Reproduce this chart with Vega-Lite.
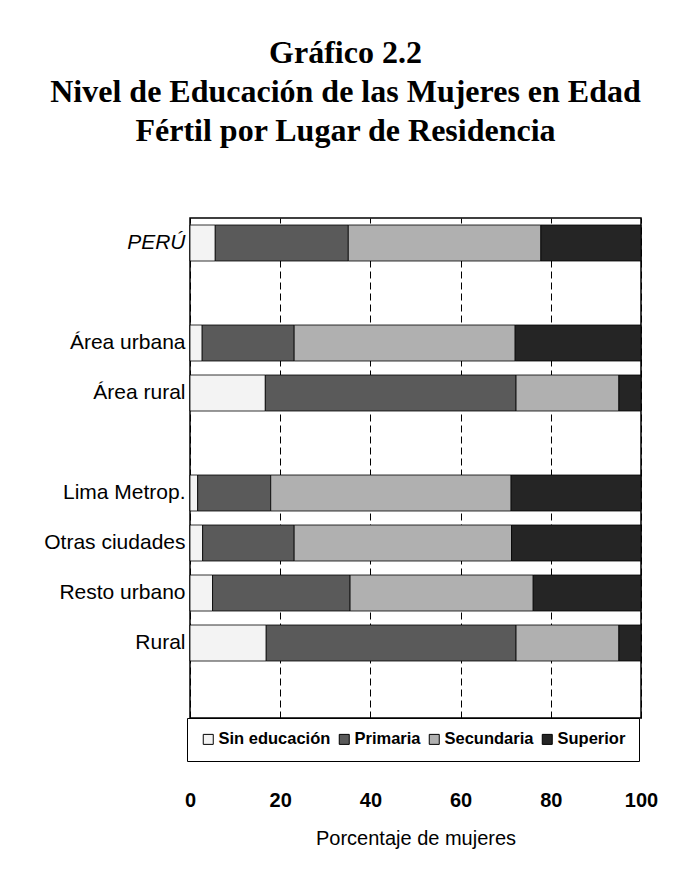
{
  "$schema": "https://vega.github.io/schema/vega-lite/v6.json",
  "width": 451,
  "height": 500,
  "autosize": {"type": "none"},
  "padding": {"left": 190, "top": 218, "right": 48, "bottom": 171},
  "background": "white",
  "title": {
    "text": ["Gráfico 2.2", "Nivel de Educación de las Mujeres en Edad", "Fértil por Lugar de Residencia"],
    "font": "Liberation Serif",
    "fontSize": 32,
    "fontWeight": "bold",
    "lineHeight": 39,
    "color": "black",
    "anchor": "middle",
    "frame": "group",
    "dx": -70,
    "offset": 70
  },
  "config": {
    "view": {"stroke": "black", "strokeWidth": 1.5},
    "axis": {"labelColor": "black", "titleColor": "black"}
  },
  "data": {
    "values": [
      {"lugar": "PERÚ", "nivel": "Sin educación", "k": 1, "pct": 5.6},
      {"lugar": "PERÚ", "nivel": "Primaria", "k": 2, "pct": 29.5},
      {"lugar": "PERÚ", "nivel": "Secundaria", "k": 3, "pct": 42.7},
      {"lugar": "PERÚ", "nivel": "Superior", "k": 4, "pct": 22.2},
      {"lugar": "Área urbana", "nivel": "Sin educación", "k": 1, "pct": 2.7},
      {"lugar": "Área urbana", "nivel": "Primaria", "k": 2, "pct": 20.4},
      {"lugar": "Área urbana", "nivel": "Secundaria", "k": 3, "pct": 49.0},
      {"lugar": "Área urbana", "nivel": "Superior", "k": 4, "pct": 27.9},
      {"lugar": "Área rural", "nivel": "Sin educación", "k": 1, "pct": 16.7},
      {"lugar": "Área rural", "nivel": "Primaria", "k": 2, "pct": 55.6},
      {"lugar": "Área rural", "nivel": "Secundaria", "k": 3, "pct": 22.8},
      {"lugar": "Área rural", "nivel": "Superior", "k": 4, "pct": 4.9},
      {"lugar": "Lima Metrop.", "nivel": "Sin educación", "k": 1, "pct": 1.7},
      {"lugar": "Lima Metrop.", "nivel": "Primaria", "k": 2, "pct": 16.2},
      {"lugar": "Lima Metrop.", "nivel": "Secundaria", "k": 3, "pct": 53.3},
      {"lugar": "Lima Metrop.", "nivel": "Superior", "k": 4, "pct": 28.8},
      {"lugar": "Otras ciudades", "nivel": "Sin educación", "k": 1, "pct": 2.8},
      {"lugar": "Otras ciudades", "nivel": "Primaria", "k": 2, "pct": 20.3},
      {"lugar": "Otras ciudades", "nivel": "Secundaria", "k": 3, "pct": 48.2},
      {"lugar": "Otras ciudades", "nivel": "Superior", "k": 4, "pct": 28.7},
      {"lugar": "Resto urbano", "nivel": "Sin educación", "k": 1, "pct": 5.0},
      {"lugar": "Resto urbano", "nivel": "Primaria", "k": 2, "pct": 30.5},
      {"lugar": "Resto urbano", "nivel": "Secundaria", "k": 3, "pct": 40.6},
      {"lugar": "Resto urbano", "nivel": "Superior", "k": 4, "pct": 23.9},
      {"lugar": "Rural", "nivel": "Sin educación", "k": 1, "pct": 16.9},
      {"lugar": "Rural", "nivel": "Primaria", "k": 2, "pct": 55.4},
      {"lugar": "Rural", "nivel": "Secundaria", "k": 3, "pct": 22.8},
      {"lugar": "Rural", "nivel": "Superior", "k": 4, "pct": 4.9}
    ]
  },
  "mark": {"type": "bar", "stroke": "black", "strokeWidth": 0.8},
  "encoding": {
    "y": {
      "field": "lugar",
      "type": "nominal",
      "scale": {
        "domain": ["PERÚ", " ", "Área urbana", "Área rural", "  ", "Lima Metrop.", "Otras ciudades", "Resto urbano", "Rural", "   "],
        "paddingInner": 0.28,
        "paddingOuter": 0.14
      },
      "axis": {
        "title": null,
        "ticks": false,
        "domain": false,
        "labelPadding": 5,
        "labelFont": "Liberation Sans",
        "labelFontSize": 21,
        "labelFontStyle": {"condition": {"test": "datum.value === 'PERÚ'", "value": "italic"}, "value": "normal"}
      }
    },
    "x": {
      "field": "pct",
      "type": "quantitative",
      "stack": "zero",
      "scale": {"domain": [0, 100], "nice": false},
      "axis": {
        "values": [0, 20, 40, 60, 80, 100],
        "grid": true,
        "gridColor": "black",
        "gridDash": [7, 4],
        "gridWidth": 1,
        "gridOpacity": 1,
        "ticks": false,
        "domain": false,
        "offset": 72,
        "labelPadding": 0,
        "labelFont": "Liberation Sans",
        "labelFontSize": 20,
        "labelFontWeight": "bold",
        "labelFlush": false,
        "title": "Porcentaje de mujeres",
        "titleFont": "Liberation Sans",
        "titleFontSize": 20,
        "titleFontWeight": "normal",
        "titlePadding": 18
      }
    },
    "color": {
      "field": "nivel",
      "type": "nominal",
      "scale": {
        "domain": ["Sin educación", "Primaria", "Secundaria", "Superior"],
        "range": ["#f3f3f3", "#5a5a5a", "#b0b0b0", "#252525"]
      },
      "legend": {
        "title": null,
        "orient": "none",
        "legendX": -3,
        "legendY": 500,
        "direction": "horizontal",
        "columns": 4,
        "strokeColor": "black",
        "fillColor": "white",
        "padding": 13,
        "symbolType": "square",
        "symbolSize": 100,
        "symbolStrokeColor": "black",
        "symbolStrokeWidth": 1,
        "labelFont": "Liberation Sans",
        "labelFontSize": 16.5,
        "labelFontWeight": "bold",
        "labelColor": "black",
        "labelOffset": 2,
        "columnPadding": 5
      }
    },
    "order": {"field": "k", "type": "quantitative"}
  }
}
